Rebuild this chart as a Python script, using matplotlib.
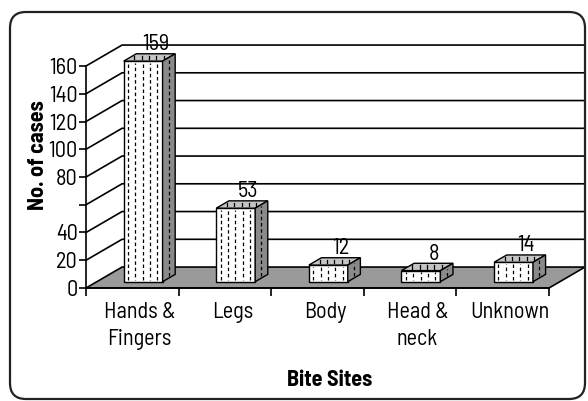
import matplotlib.pyplot as plt
from matplotlib.patches import Polygon, FancyBboxPatch

# data
sites = ["Hands &\nFingers", "Legs", "Body", "Head &\nneck", "Unknown"]
cases = [159, 53, 12, 8, 14]
yticks = [0, 20, 40, 60, 80, 100, 120, 140, 160]
ylabels = ["0", "20", "40", "", "80", "100", "120", "140", "160"]

plt.rcParams['font.family'] = ['Barlow Semi Condensed', 'Roboto', 'DejaVu Sans']
FS = 16

fig = plt.figure(figsize=(5.88, 4.01), dpi=100)
ax = fig.add_axes([0.1463, 0.2818, 0.7874, 0.5536])
ax.set_xlim(0, len(sites))
ax.set_ylim(0, 160)
ax.patch.set_alpha(0)

# depth of the fake 3d box (in data units)
DX = 0.389
DY = 15.1
n = len(sites)

# back wall gridlines + left wall diagonals
for v in yticks[1:]:
    ax.plot([0, DX, n + DX], [v, v + DY, v + DY], color="black", lw=1.2,
            clip_on=False, zorder=1)

# floor
floor = Polygon([(0, 0), (n, 0), (n + DX, DY), (DX, DY)], closed=True,
                facecolor="#9a9a9a", edgecolor="black", lw=1.2, zorder=2,
                clip_on=False)
ax.add_patch(floor)

# bars
W = 0.42
f0, f1 = 0.3, 0.65
ddx = (f1 - f0) * DX
ddy = (f1 - f0) * DY
dash = (0, (2.8, 2.2))
dash2 = (2.5, (2.8, 2.2))
for i, v in enumerate(cases):
    x0 = i + 0.5 - W / 2 + f0 * DX
    yb = f0 * DY
    yt = v + yb
    front = Polygon([(x0, yb), (x0 + W, yb), (x0 + W, yt), (x0, yt)],
                    facecolor="white", edgecolor="black", lw=1.0, zorder=3,
                    clip_on=False)
    top = Polygon([(x0, yt), (x0 + W, yt), (x0 + W + ddx, yt + ddy),
                   (x0 + ddx, yt + ddy)],
                  facecolor="#c4c4c4", edgecolor="black", lw=1.0, zorder=3,
                  clip_on=False)
    side = Polygon([(x0 + W, yb), (x0 + W + ddx, yb + ddy),
                    (x0 + W + ddx, yt + ddy), (x0 + W, yt)],
                   facecolor="#8a8a8a", edgecolor="black", lw=1.0, zorder=3,
                   clip_on=False)
    for p in (front, top, side):
        ax.add_patch(p)
    # dashed pattern on the faces
    for k in range(5):
        xx = x0 + W * (k + 0.6) / 5.3
        ax.plot([xx, xx], [yb + 1.2, yt - 1.2], color="black", lw=0.9,
                ls=dash if k % 2 == 0 else dash2, zorder=4, clip_on=False)
        ax.plot([xx + ddx * 0.5, xx + ddx * 0.5],
                [yt + ddy * 0.25, yt + ddy * 0.75], color="black", lw=0.9,
                zorder=4, clip_on=False)
    xs = x0 + W + ddx * 0.5
    ax.plot([xs, xs], [yb + ddy * 0.5 + 1.2, yt + ddy * 0.5 - 1.2],
            color="black", lw=0.9, ls=dash, zorder=4, clip_on=False)
    # value label
    ax.text(x0 + W / 2 + ddx, yt + ddy - 1, str(v), ha="center", va="bottom",
            fontsize=FS, zorder=5)

# axes styling
for s in ("top", "right"):
    ax.spines[s].set_visible(False)
ax.spines["left"].set_linewidth(1.2)
ax.spines["bottom"].set_linewidth(1.2)
ax.spines["left"].set_zorder(5)
ax.spines["bottom"].set_zorder(5)

ax.set_yticks(yticks)
ax.set_yticklabels(ylabels)
ax.tick_params(axis="y", length=5, width=1.2, labelsize=FS, pad=1)

ax.set_xticks(range(n + 1))
ax.set_xticklabels([])
ax.set_xticks([i + 0.5 + 0.08 for i in range(n)], minor=True)
ax.set_xticklabels(sites, minor=True, fontsize=FS, linespacing=1.4)
ax.tick_params(axis="x", which="major", length=6, width=1.2)
ax.tick_params(axis="x", which="minor", length=0, pad=10)

ax.set_ylabel("No. of cases", fontsize=FS, fontweight="bold")
ax.yaxis.set_label_coords(-0.082, 0.6)
ax.set_xlabel("Bite Sites", fontsize=FS, fontweight="bold")
ax.xaxis.set_label_coords(0.527, -0.37)

# rounded outer frame
frame = FancyBboxPatch((0.10, 0.02), 5.75, 3.87,
                       boxstyle="round,pad=0,rounding_size=0.16",
                       transform=fig.dpi_scale_trans, facecolor="none",
                       edgecolor="#222222", lw=1.6)
fig.add_artist(frame)

fig.savefig("out.png", dpi=100)
